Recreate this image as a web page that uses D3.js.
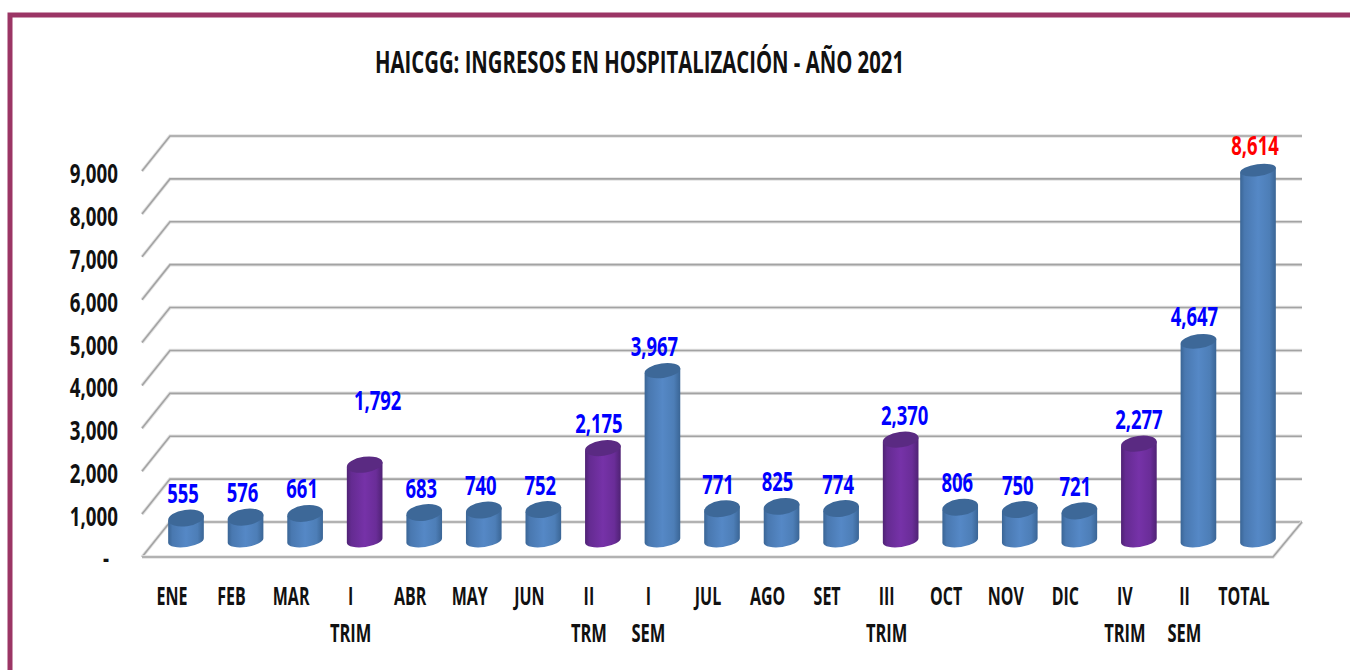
<!DOCTYPE html>
<html><head><meta charset="utf-8">
<script src="https://cdn.jsdelivr.net/npm/d3@7"></script>
<style>html,body{margin:0;padding:0;background:#fff;overflow:hidden}svg{display:block}
text{font-family:"Open Sans",sans-serif;font-weight:700}</style></head>
<body><svg id="c" width="1350" height="670"></svg>
<script>
const titleText = "HAICGG: INGRESOS EN HOSPITALIZACIÓN - AÑO 2021";
const categories = ["ENE","FEB","MAR","I","ABR","MAY","JUN","II","I","JUL","AGO","SET","III","OCT","NOV","DIC","IV","II","TOTAL"];
const subLabels = ["","","","TRIM","","","","TRM","SEM","","","","TRIM","","","","TRIM","SEM",""];
const values = [555,576,661,1792,683,740,752,2175,3967,771,825,774,2370,806,750,721,2277,4647,8614];
const kinds = ["m","m","m","t","m","m","m","t","s","m","m","m","t","m","m","m","t","s","s"];
const yTicks = [0,1000,2000,3000,4000,5000,6000,7000,8000,9000];
const labelDx = [-3,-3,-3,13,-3,-3,-3,-4,-8,-4,-4,-3,4,-3,-2,-4,0,-4,-3];
const labelDy = [0,0,0,-40,0,0,0,0,0,0,0,0,0,0,0,0,0,0,0];

const svg = d3.select("#c");
const idx = categories.map((_,i)=>i);
const x = d3.scaleLinear().domain([0,18]).range([186,1258]);
const yBack = d3.scaleLinear().domain([0,9000]).range([522,136]);
const yFront = d3.scaleLinear().domain([0,9000]).range([557,171]);
const yBar = d3.scaleLinear().domain([0,9000]).range([542,153.4]);
const ryTop = d3.scaleLinear().domain([0,9000]).range([8.4,5.8]);
const fmt = d3.format(",");
// condense Open Sans to the narrow look of the reference
function squeeze(sel,f){ sel.each(function(){ const w=this.getComputedTextLength()*f;
  this.setAttribute("textLength",w); this.setAttribute("lengthAdjust","spacingAndGlyphs"); }); return sel; }

// frame
svg.append("path").attr("d","M10 670V15H1350").attr("fill","none").attr("stroke","#9b3565").attr("stroke-width",5);

// title
svg.append("text").attr("x",375).attr("y",73).attr("font-size",31).attr("fill","#111").text(titleText)
  .attr("textLength",529).attr("lengthAdjust","spacingAndGlyphs");

const bx0=142, bx1=170, rx0=1273, rx1=1302;
// grid
const g = svg.append("g").attr("fill","none");
function line(d){
  g.append("path").attr("d",d).attr("stroke","#e2e2e2").attr("stroke-width",3.5);
  g.append("path").attr("d",d).attr("stroke","#a3a3a3").attr("stroke-width",1.6);
}
yTicks.forEach(t=>line(`M${bx0} ${yFront(t)}L${bx1} ${yBack(t)}H${rx1}`));
line(`M${bx0} ${yFront(0)}H${rx0}L${rx1} ${yBack(0)}`);

// y tick labels
squeeze(svg.append("g").selectAll("text").data(yTicks).join("text")
  .attr("x",d=>d===0?109:118).attr("text-anchor","end").attr("font-size",26).attr("fill","#111")
  .attr("y",d=>yFront(d)+12-(d===0?1:0))
  .text(d=>d===0?"-":fmt(d)),0.72);

// gradients
const defs = svg.append("defs");
function grad(id,e,c){
  const gr=defs.append("linearGradient").attr("id",id);
  [[0,e],[0.12,d3.interpolateRgb(e,c)(.55)],[0.5,c],[0.82,d3.interpolateRgb(e,c)(.7)],[1,e]].forEach(s=>gr.append("stop").attr("offset",s[0]).attr("stop-color",s[1]));
}
grad("gb","#3a6595","#5588c6");
grad("gp","#4f2274","#7632a8");
const topFill={b:"#3d6898",p:"#5a2a82"};

const RX=18,RYB=6.5,ROT=-8,a=ROT*Math.PI/180,baseLift=1.5;
const ex=RX*Math.cos(a), ey=RX*Math.sin(a);
const bars=svg.append("g").selectAll("g").data(idx).join("g");
bars.append("path").attr("fill",i=>kinds[i]==="t"?"url(#gp)":"url(#gb)")
  .attr("d",i=>{
    const cx=x(i), yt=yBar(values[i]), yb=yBar(0)-baseLift;
    return `M${cx-ex} ${yt-ey}L${cx-ex} ${yb-ey}A${RX} ${RYB} ${ROT} 0 0 ${cx+ex} ${yb+ey}L${cx+ex} ${yt+ey}Z`;
  });
bars.append("ellipse").attr("fill",i=>kinds[i]==="t"?topFill.p:topFill.b)
  .attr("cx",i=>x(i)).attr("cy",i=>yBar(values[i])).attr("rx",RX).attr("ry",i=>ryTop(values[i]))
  .attr("transform",i=>`rotate(${ROT} ${x(i)} ${yBar(values[i])})`);

// value labels
squeeze(svg.append("g").selectAll("text").data(idx).join("text")
  .attr("text-anchor","middle").attr("font-size",26)
  .attr("fill",i=>categories[i]==="TOTAL"?"#ff0000":"#0000ff")
  .attr("x",i=>x(i)+labelDx[i]).attr("y",i=>yBar(values[i])-15+labelDy[i])
  .text(i=>fmt(values[i])),0.71);

// category labels
const cat=svg.append("g").attr("text-anchor","middle").attr("font-size",25).attr("fill","#111");
squeeze(cat.selectAll("text.a").data(idx).join("text").attr("class","a")
  .attr("x",i=>x(i)-14).attr("y",605).text(i=>categories[i]),0.64);
squeeze(cat.selectAll("text.b").data(idx.filter(i=>subLabels[i])).join("text").attr("class","b")
  .attr("x",i=>x(i)-14).attr("y",642).text(i=>subLabels[i]),0.66);
</script></body></html>
